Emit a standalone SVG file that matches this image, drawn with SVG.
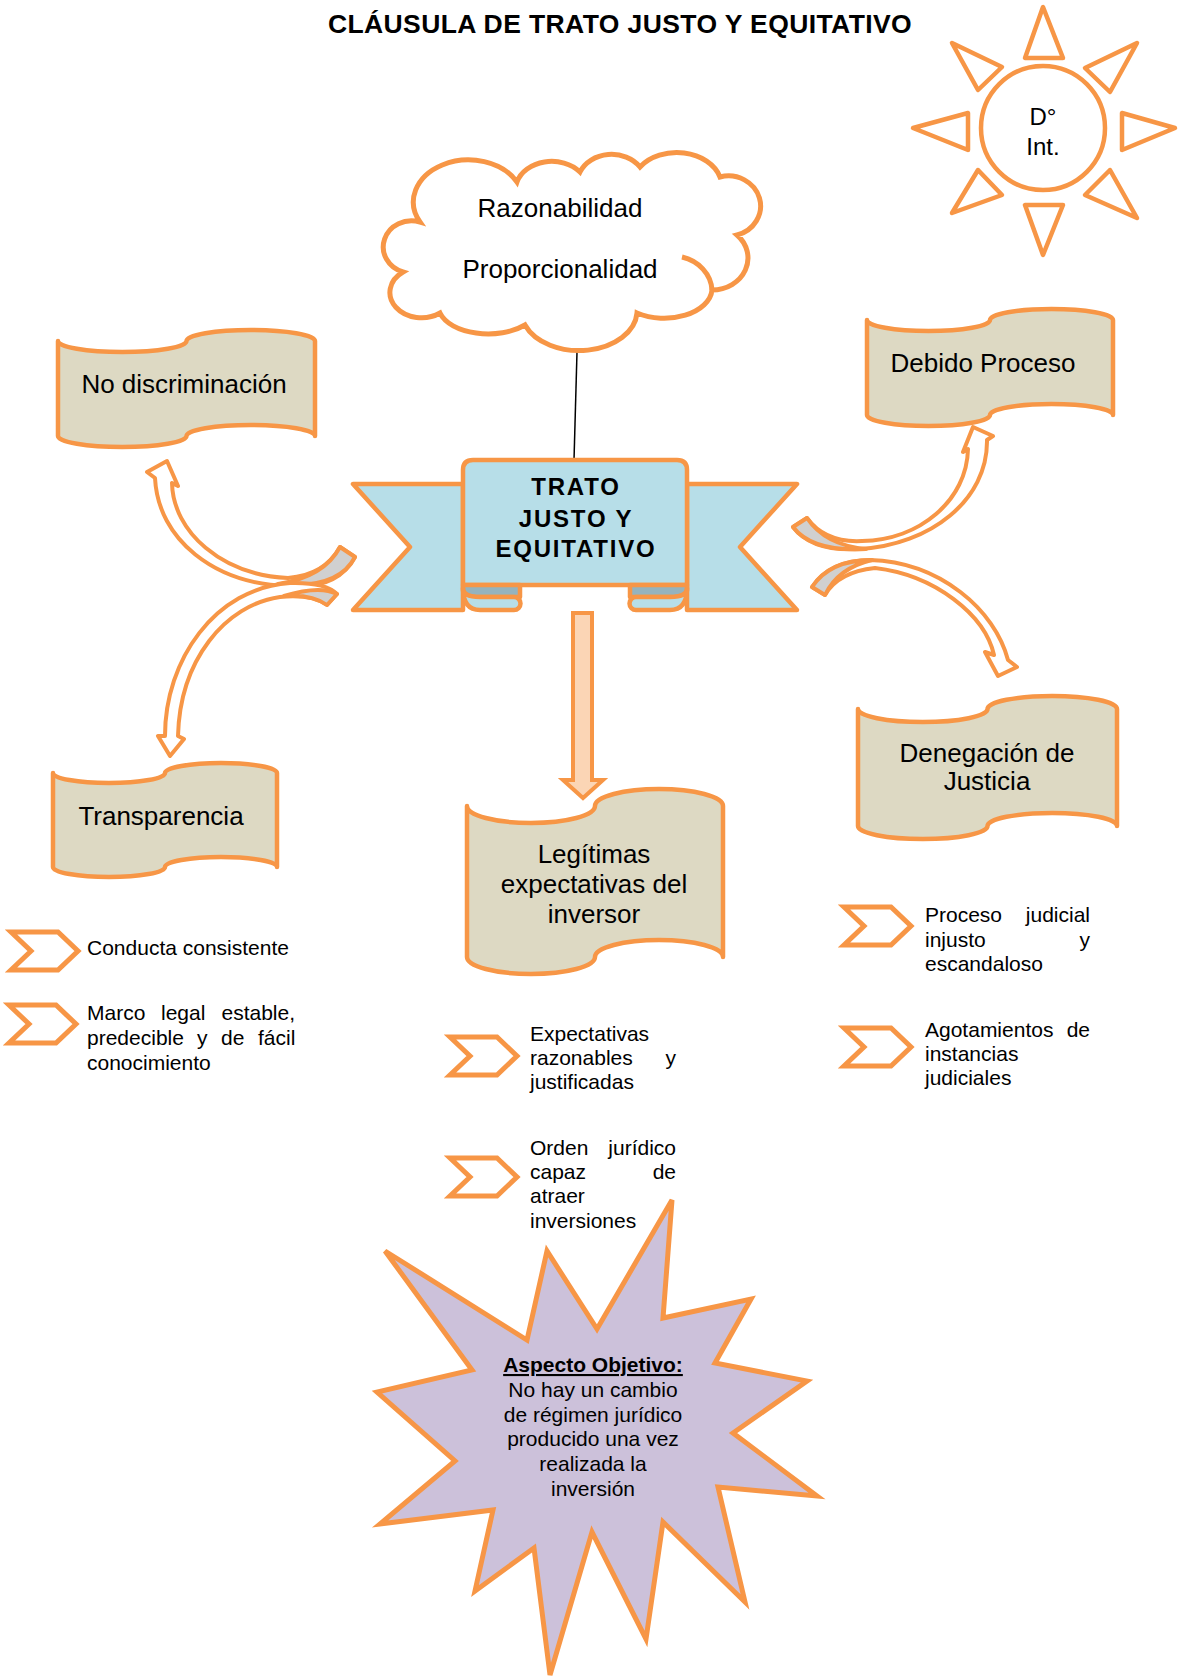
<svg xmlns="http://www.w3.org/2000/svg" width="1184" height="1679" viewBox="0 0 1184 1679">
<style>
.t{font-family:"Liberation Sans",Arial,sans-serif;fill:#000}
.lbl{font-size:26px;text-anchor:middle}
.b{font-size:21px}
.e{text-anchor:end}
.scroll{fill:#ddd9c3;stroke:#f79646;stroke-width:4.5;stroke-linejoin:round}
.chev{fill:#fff;stroke:#f79646;stroke-width:5;stroke-linejoin:miter}
.sun{fill:#fff;stroke:#f79646;stroke-width:4.5;stroke-linejoin:round}
.carrow{fill:#fff;stroke:#f79646;stroke-width:4;stroke-linejoin:round}
.grey{fill:#d0d0d0;stroke:#f79646;stroke-width:4;stroke-linejoin:round}
.ban{fill:#b7dee8;stroke:#f79646;stroke-width:4.5;stroke-linejoin:round}
.dark{fill:#95b3bd;stroke:#f79646;stroke-width:4.5;stroke-linejoin:round}
.bt{font-size:24px;font-weight:bold;text-anchor:middle;letter-spacing:1.8px}
</style>
<defs>
<path id="chev" d="M0,0 H47 L67,19 L47,38 H0 L20,19 Z"/>
</defs>
<rect width="1184" height="1679" fill="#fff"/>

<g id="title"><text class="t" x="620" y="33" font-size="26.5" font-weight="bold" text-anchor="middle" letter-spacing="0.4">CLÁUSULA DE TRATO JUSTO Y EQUITATIVO</text></g>

<g id="sun">
<circle class="sun" cx="1043" cy="128" r="62"/>
<polygon class="sun" points="1043,7 1025,58 1063,58"/>
<polygon class="sun" points="1043,255 1025,205 1063,205"/>
<polygon class="sun" points="913,128 968,113 968,150"/>
<polygon class="sun" points="1175,128 1122,113 1122,150"/>
<polygon class="sun" points="952,43 1002,67 978,90"/>
<polygon class="sun" points="1137,43 1085,68 1110,92"/>
<polygon class="sun" points="978,170 1002,195 952,213"/>
<polygon class="sun" points="1110,170 1085,195 1137,218"/>
<text class="t" x="1043" y="125" font-size="24" text-anchor="middle">D°</text>
<text class="t" x="1043" y="155" font-size="24" text-anchor="middle">Int.</text>
</g>

<g id="connectors">
<line x1="577" y1="352" x2="574" y2="460" stroke="#000" stroke-width="1.5"/>
<path d="M573,613 H592 V780 H603 L583,798 L563,780 H573 Z" fill="#fbd5b5" stroke="#f79646" stroke-width="4" stroke-linejoin="miter"/>
<path class="carrow" d="M355,557 Q337,590 288,586 C215,584 158,540 155,478 L147,472 L167,461 L178,486 L172,483 C173,532 222,575 288,578 Q325,575 340,547 Z"/>
<path class="grey" d="M340,547 L355,557 Q338,590 278,584 Q324,577 340,547 Z"/>
<path class="carrow" d="M337,594 L327,605 Q312,594 280,597 C225,605 180,660 178,736 L184,739 L170,756 L158,736 L165,736 C165,660 215,588 290,583 Q325,582 337,594 Z"/>
<path class="grey" d="M337,594 L327,605 Q312,594 284,596 Q320,585 337,594 Z"/>
<path class="carrow" d="M807,518 L793,527 Q812,552 860,549 C930,545 988,500 987,440 L993,436 L973,427 L963,452 L968,449 C967,500 920,540 862,541 Q825,543 807,518 Z"/>
<path class="grey" d="M807,518 L793,527 Q812,552 866,549 Q825,545 807,518 Z"/>
<path class="carrow" d="M812,587 Q830,560 870,560 C940,562 995,610 1008,660 L1017,667 L998,676 L985,652 L994,655 C985,615 935,575 875,568 Q838,572 825,595 Z"/>
<path class="grey" d="M812,587 Q830,560 872,560 Q838,568 825,595 Z"/>
</g>

<g id="cloud">
<path d="M420,222 A55,42 0 0 1 517,182 A36,28 0 0 1 580,172 A34,28 0 0 1 640,167 A45,34 0 0 1 720,177 A32,30 0 0 1 737,235 A36,32 0 0 1 712,290 A48,30 0 0 1 637,313 A58,40 0 0 1 525,325 A50,28 0 0 1 440,313 A30,24 0 0 1 403,272 A28,26 0 0 1 420,222 Z" fill="#fff" stroke="#f79646" stroke-width="5"/>
<path d="M682,257 A40,36 0 0 1 712,290" fill="none" stroke="#f79646" stroke-width="5"/>
<text class="t lbl" x="560" y="217">Razonabilidad</text>
<text class="t lbl" x="560" y="278">Proporcionalidad</text>
</g>

<g id="banner">
<path class="ban" d="M353,484 H463 V610 H353 L410,547 Z"/>
<path class="ban" d="M797,484 H687 V610 H797 L740,547 Z"/>
<path class="ban" d="M463,470 Q463,460 473,460 H677 Q687,460 687,470 V585 H463 Z"/>
<path class="dark" d="M463,585 H520 V597 H480 Q463,597 463,590 Z"/>
<path class="ban" d="M463,588 Q463,610 480,610 H514 A6.5,6.5 0 0 0 514,597 H480 Q463,597 463,588 Z"/>
<path class="dark" d="M687,585 H630 V597 H670 Q687,597 687,590 Z"/>
<path class="ban" d="M687,588 Q687,610 670,610 H636 A6.5,6.5 0 0 1 636,597 H670 Q687,597 687,588 Z"/>
<text class="t bt" x="576" y="495">TRATO</text>
<text class="t bt" x="576" y="527">JUSTO Y</text>
<text class="t bt" x="576" y="557">EQUITATIVO</text>
</g>

<g id="no-discriminacion">
<path class="scroll" d="M58,341 A64,11 0 0 0 186.5,341 A64,11 0 0 1 315,341 V436 A64,11 0 0 0 186.5,436 A64,11 0 0 1 58,436 Z"/>
<text class="t lbl" x="184" y="393">No discriminación</text>
</g>

<g id="debido-proceso">
<path class="scroll" d="M867,320 A61.5,11 0 0 0 990,320 A61.5,11 0 0 1 1113,320 V415 A61.5,11 0 0 0 990,415 A61.5,11 0 0 1 867,415 Z"/>
<text class="t lbl" x="983" y="372">Debido Proceso</text>
</g>

<g id="transparencia">
<path class="scroll" d="M53,773 A56,10 0 0 0 165,773 A56,10 0 0 1 277,773 V867 A56,10 0 0 0 165,867 A56,10 0 0 1 53,867 Z"/>
<text class="t lbl" x="161" y="825">Transparencia</text>
</g>

<g id="legitimas">
<path class="scroll" d="M467,806 A64,17 0 0 0 595,806 A64,17 0 0 1 723,806 V957 A64,17 0 0 0 595,957 A64,17 0 0 1 467,957 Z"/>
<text class="t lbl" x="594" y="863">Legítimas</text>
<text class="t lbl" x="594" y="893">expectativas del</text>
<text class="t lbl" x="594" y="923">inversor</text>
</g>

<g id="denegacion">
<path class="scroll" d="M858,709 A64.75,13 0 0 0 987.5,709 A64.75,13 0 0 1 1117,709 V826 A64.75,13 0 0 0 987.5,826 A64.75,13 0 0 1 858,826 Z"/>
<text class="t lbl" x="987" y="762">Denegación de</text>
<text class="t lbl" x="987" y="790">Justicia</text>
</g>

<g id="bullets-left">
<use href="#chev" class="chev" x="11" y="932"/>
<text class="t b" x="87" y="955">Conducta consistente</text>
<use href="#chev" class="chev" x="9" y="1005"/>
<text class="t b" y="1020"><tspan x="87">Marco</tspan><tspan x="161">legal</tspan><tspan x="221.5">estable,</tspan></text>
<text class="t b" y="1045"><tspan x="87">predecible</tspan><tspan x="197">y</tspan><tspan x="221">de</tspan><tspan x="258">fácil</tspan></text>
<text class="t b" x="87" y="1070">conocimiento</text>
</g>

<g id="bullets-middle">
<use href="#chev" class="chev" x="450" y="1037"/>
<text class="t b" x="530" y="1041">Expectativas</text>
<text class="t b" x="530" y="1065">razonables</text><text class="t b e" x="676" y="1065">y</text>
<text class="t b" x="530" y="1089">justificadas</text>
<use href="#chev" class="chev" x="450" y="1158"/>
<text class="t b" x="530" y="1155">Orden</text><text class="t b e" x="676" y="1155">jurídico</text>
<text class="t b" x="530" y="1179">capaz</text><text class="t b e" x="676" y="1179">de</text>
<text class="t b" x="530" y="1203">atraer</text>
<text class="t b" x="530" y="1228">inversiones</text>
</g>

<g id="bullets-right">
<use href="#chev" class="chev" x="844" y="907"/>
<text class="t b" x="925" y="922">Proceso</text><text class="t b e" x="1090" y="922">judicial</text>
<text class="t b" x="925" y="947">injusto</text><text class="t b e" x="1090" y="947">y</text>
<text class="t b" x="925" y="971">escandaloso</text>
<use href="#chev" class="chev" x="844" y="1028"/>
<text class="t b" x="925" y="1037">Agotamientos</text><text class="t b e" x="1090" y="1037">de</text>
<text class="t b" x="925" y="1061">instancias</text>
<text class="t b" x="925" y="1085">judiciales</text>
</g>

<g id="aspecto-objetivo">
<polygon points="672,1200 663,1318 751,1299 715,1363 807,1381 733,1433 817,1496 718,1487 745,1602 663,1522 646,1639 592,1532 550,1675 534,1548 475,1591 493,1510 380,1524 455,1461 377,1392 472,1370 385,1251 527,1340 547,1251 597,1329" fill="#ccc1da" stroke="#f79646" stroke-width="5" stroke-linejoin="miter"/>
<text class="t b" x="593" y="1372" font-weight="bold" text-anchor="middle" text-decoration="underline">Aspecto Objetivo:</text>
<text class="t b" x="593" y="1397" text-anchor="middle">No hay un cambio</text>
<text class="t b" x="593" y="1422" text-anchor="middle">de régimen jurídico</text>
<text class="t b" x="593" y="1446" text-anchor="middle">producido una vez</text>
<text class="t b" x="593" y="1471" text-anchor="middle">realizada la</text>
<text class="t b" x="593" y="1496" text-anchor="middle">inversión</text>
</g>
</svg>
